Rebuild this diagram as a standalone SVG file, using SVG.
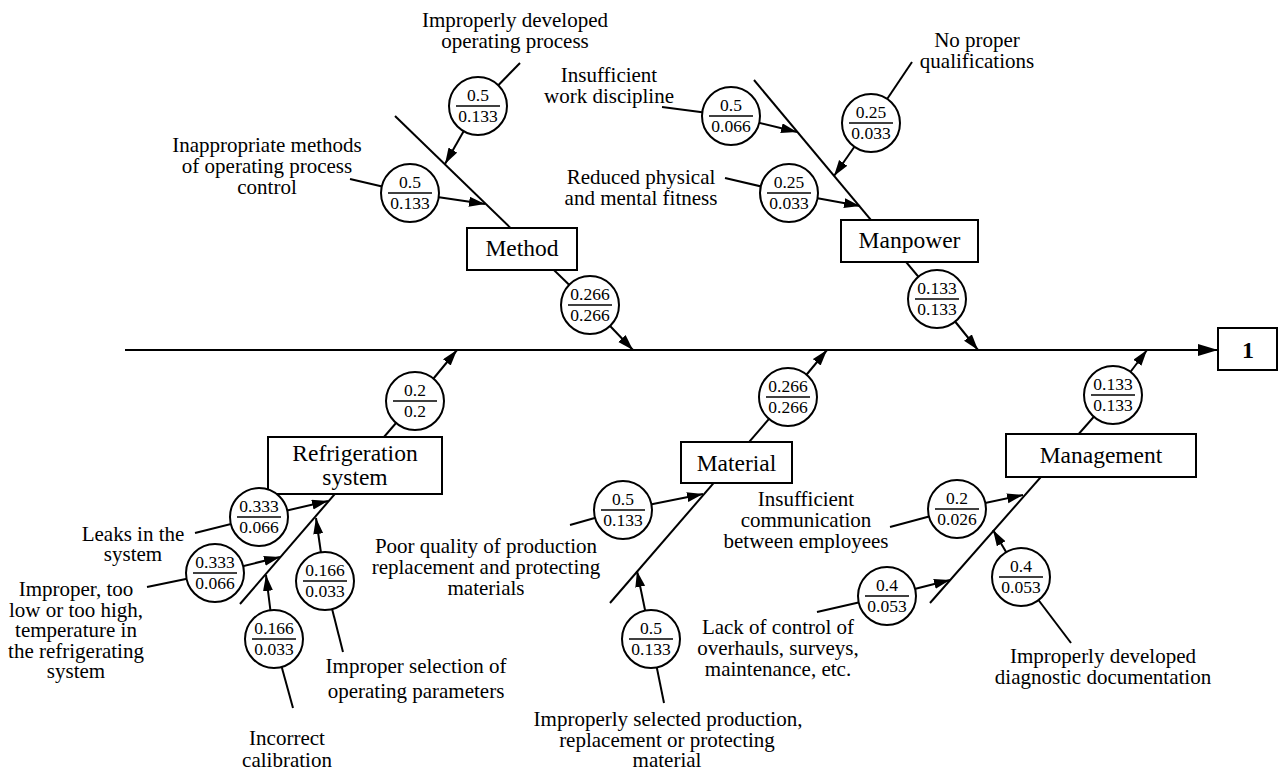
<svg xmlns="http://www.w3.org/2000/svg" width="1279" height="770" viewBox="0 0 1279 770">
<style>
.ln{stroke:#000;stroke-width:2;fill:none}
.ar{stroke:#000;stroke-width:2;fill:none;marker-end:url(#ah)}
.c{fill:#fff;stroke:#000;stroke-width:2}
.fl{stroke:#000;stroke-width:1.3}
.bx{fill:#fff;stroke:#000;stroke-width:2}
text{font-family:"Liberation Serif","Times New Roman",serif;text-anchor:middle;fill:#000}
.t{font-size:21px}
.n{font-size:17.5px}
.b{font-size:23.5px}
.one{font-size:24px;font-weight:bold}
</style>
<defs>
<marker id="ah" markerUnits="userSpaceOnUse" markerWidth="18" markerHeight="12" refX="16" refY="5" orient="auto"><path d="M0,0 L16,5 L0,10 z" fill="#000"/></marker>
<marker id="ahb" markerUnits="userSpaceOnUse" markerWidth="22" markerHeight="14" refX="20" refY="6" orient="auto"><path d="M0,0 L20,6 L0,12 z" fill="#000"/></marker>
</defs>
<rect width="1279" height="770" fill="#fff"/>
<g id="connectors">
<line x1="125" y1="350" x2="1218" y2="350" class="ln" marker-end="url(#ahb)"/>
<!-- Method -->
<line x1="395" y1="116" x2="590" y2="305" class="ln"/>
<line x1="590" y1="305" x2="633" y2="350" class="ar"/>
<line x1="520" y1="63" x2="478" y2="106" class="ln"/>
<line x1="478" y1="106" x2="445" y2="164" class="ar"/>
<line x1="350" y1="179" x2="410" y2="193" class="ln"/>
<line x1="410" y1="193" x2="485" y2="204" class="ar"/>
<!-- Manpower -->
<line x1="754" y1="80" x2="937" y2="299" class="ln"/>
<line x1="937" y1="299" x2="978" y2="350" class="ar"/>
<line x1="662" y1="107" x2="731" y2="116" class="ln"/>
<line x1="731" y1="116" x2="797" y2="132" class="ar"/>
<line x1="912" y1="62" x2="871" y2="123" class="ln"/>
<line x1="871" y1="123" x2="834" y2="176" class="ar"/>
<line x1="725" y1="178" x2="789" y2="193" class="ln"/>
<line x1="789" y1="193" x2="860" y2="206" class="ar"/>
<!-- Refrigeration -->
<line x1="240" y1="604" x2="415" y2="401" class="ln"/>
<line x1="415" y1="401" x2="457" y2="350" class="ar"/>
<line x1="195" y1="533" x2="259" y2="517" class="ln"/>
<line x1="259" y1="517" x2="328" y2="501" class="ar"/>
<line x1="147" y1="587" x2="215" y2="573" class="ln"/>
<line x1="215" y1="573" x2="280" y2="557" class="ar"/>
<line x1="293" y1="708" x2="274" y2="639" class="ln"/>
<line x1="274" y1="639" x2="266" y2="575" class="ar"/>
<line x1="343" y1="652" x2="325" y2="581" class="ln"/>
<line x1="325" y1="581" x2="316" y2="518" class="ar"/>
<!-- Material -->
<line x1="610" y1="603" x2="788" y2="397" class="ln"/>
<line x1="788" y1="397" x2="827" y2="350" class="ar"/>
<line x1="570" y1="525" x2="623" y2="510" class="ln"/>
<line x1="623" y1="510" x2="703" y2="494" class="ar"/>
<line x1="664" y1="703" x2="651" y2="639" class="ln"/>
<line x1="651" y1="639" x2="637" y2="571" class="ar"/>
<!-- Management -->
<line x1="930" y1="603" x2="1113" y2="395" class="ln"/>
<line x1="1113" y1="395" x2="1147" y2="350" class="ar"/>
<line x1="890" y1="527" x2="957" y2="509" class="ln"/>
<line x1="957" y1="509" x2="1023" y2="495" class="ar"/>
<line x1="817" y1="612" x2="887" y2="596" class="ln"/>
<line x1="887" y1="596" x2="950" y2="580" class="ar"/>
<line x1="1071" y1="643" x2="1021" y2="577" class="ln"/>
<line x1="1021" y1="577" x2="993" y2="530" class="ar"/>
</g>
<!-- category boxes -->
<g id="method"><rect x="467" y="228" width="110" height="42" class="bx"/><text x="522" y="256" class="b">Method</text></g>
<g id="manpower"><rect x="841" y="220" width="137" height="42" class="bx"/><text x="909.5" y="248" class="b">Manpower</text></g>
<g id="refrigeration"><rect x="268" y="437" width="174" height="57" class="bx"/><text x="355" y="461" class="b">Refrigeration</text><text x="355" y="485" class="b">system</text></g>
<g id="material"><rect x="681" y="442" width="111" height="41" class="bx"/><text x="736.5" y="471" class="b">Material</text></g>
<g id="management"><rect x="1006" y="434" width="190" height="43" class="bx"/><text x="1101" y="463" class="b">Management</text></g>
<g id="effect"><rect x="1218" y="328" width="59" height="42" class="bx"/><text x="1248" y="358" class="one">1</text></g>
<!-- weight circles -->
<g id="w-method" transform="translate(590,305)"><circle r="29" class="c"/><line x1="-22" x2="22" class="fl"/><text y="-5" class="n">0.266</text><text y="16" class="n">0.266</text></g>
<g id="w-m1" transform="translate(478,106)"><circle r="29" class="c"/><line x1="-22" x2="22" class="fl"/><text y="-5" class="n">0.5</text><text y="16" class="n">0.133</text></g>
<g id="w-m2" transform="translate(410,193)"><circle r="29" class="c"/><line x1="-22" x2="22" class="fl"/><text y="-5" class="n">0.5</text><text y="16" class="n">0.133</text></g>
<g id="w-manpower" transform="translate(937,299)"><circle r="29" class="c"/><line x1="-22" x2="22" class="fl"/><text y="-5" class="n">0.133</text><text y="16" class="n">0.133</text></g>
<g id="w-p1" transform="translate(731,116)"><circle r="29" class="c"/><line x1="-22" x2="22" class="fl"/><text y="-5" class="n">0.5</text><text y="16" class="n">0.066</text></g>
<g id="w-p2" transform="translate(871,123)"><circle r="29" class="c"/><line x1="-22" x2="22" class="fl"/><text y="-5" class="n">0.25</text><text y="16" class="n">0.033</text></g>
<g id="w-p3" transform="translate(789,193)"><circle r="29" class="c"/><line x1="-22" x2="22" class="fl"/><text y="-5" class="n">0.25</text><text y="16" class="n">0.033</text></g>
<g id="w-refrig" transform="translate(415,401)"><circle r="29" class="c"/><line x1="-22" x2="22" class="fl"/><text y="-5" class="n">0.2</text><text y="16" class="n">0.2</text></g>
<g id="w-r1" transform="translate(259,517)"><circle r="29" class="c"/><line x1="-22" x2="22" class="fl"/><text y="-5" class="n">0.333</text><text y="16" class="n">0.066</text></g>
<g id="w-r2" transform="translate(215,573)"><circle r="29" class="c"/><line x1="-22" x2="22" class="fl"/><text y="-5" class="n">0.333</text><text y="16" class="n">0.066</text></g>
<g id="w-r3" transform="translate(274,639)"><circle r="29" class="c"/><line x1="-22" x2="22" class="fl"/><text y="-5" class="n">0.166</text><text y="16" class="n">0.033</text></g>
<g id="w-r4" transform="translate(325,581)"><circle r="29" class="c"/><line x1="-22" x2="22" class="fl"/><text y="-5" class="n">0.166</text><text y="16" class="n">0.033</text></g>
<g id="w-material" transform="translate(788,397)"><circle r="29" class="c"/><line x1="-22" x2="22" class="fl"/><text y="-5" class="n">0.266</text><text y="16" class="n">0.266</text></g>
<g id="w-t1" transform="translate(623,510)"><circle r="29" class="c"/><line x1="-22" x2="22" class="fl"/><text y="-5" class="n">0.5</text><text y="16" class="n">0.133</text></g>
<g id="w-t2" transform="translate(651,639)"><circle r="29" class="c"/><line x1="-22" x2="22" class="fl"/><text y="-5" class="n">0.5</text><text y="16" class="n">0.133</text></g>
<g id="w-management" transform="translate(1113,395)"><circle r="29" class="c"/><line x1="-22" x2="22" class="fl"/><text y="-5" class="n">0.133</text><text y="16" class="n">0.133</text></g>
<g id="w-g1" transform="translate(957,509)"><circle r="29" class="c"/><line x1="-22" x2="22" class="fl"/><text y="-5" class="n">0.2</text><text y="16" class="n">0.026</text></g>
<g id="w-g2" transform="translate(887,596)"><circle r="29" class="c"/><line x1="-22" x2="22" class="fl"/><text y="-5" class="n">0.4</text><text y="16" class="n">0.053</text></g>
<g id="w-g3" transform="translate(1021,577)"><circle r="29" class="c"/><line x1="-22" x2="22" class="fl"/><text y="-5" class="n">0.4</text><text y="16" class="n">0.053</text></g>
<!-- cause labels -->
<g id="l-m1" class="t"><text x="515" y="27">Improperly developed</text><text x="515" y="48">operating process</text></g>
<g id="l-m2" class="t"><text x="267" y="152">Inappropriate methods</text><text x="267" y="173">of operating process</text><text x="267" y="194">control</text></g>
<g id="l-p1" class="t"><text x="609" y="82">Insufficient</text><text x="609" y="103">work discipline</text></g>
<g id="l-p2" class="t"><text x="977" y="47">No proper</text><text x="977" y="68">qualifications</text></g>
<g id="l-p3" class="t"><text x="641" y="184">Reduced physical</text><text x="641" y="205">and mental fitness</text></g>
<g id="l-r1" class="t"><text x="133" y="541">Leaks in the</text><text x="133" y="561">system</text></g>
<g id="l-r2" class="t"><text x="76" y="596">Improper, too</text><text x="76" y="617">low or too high,</text><text x="76" y="637">temperature in</text><text x="76" y="658">the refrigerating</text><text x="76" y="678">system</text></g>
<g id="l-r3" class="t"><text x="287" y="745">Incorrect</text><text x="287" y="767">calibration</text></g>
<g id="l-r4" class="t"><text x="416" y="673">Improper selection of</text><text x="416" y="698">operating parameters</text></g>
<g id="l-t1" class="t"><text x="486" y="553">Poor quality of production</text><text x="486" y="574">replacement and protecting</text><text x="486" y="595">materials</text></g>
<g id="l-t2" class="t"><text x="668" y="726">Improperly selected production,</text><text x="667" y="747">replacement or protecting</text><text x="667" y="767">material</text></g>
<g id="l-g1" class="t"><text x="806" y="506">Insufficient</text><text x="806" y="527">communication</text><text x="806" y="548">between employees</text></g>
<g id="l-g2" class="t"><text x="778" y="634">Lack of control of</text><text x="778" y="655">overhauls, surveys,</text><text x="778" y="676">maintenance, etc.</text></g>
<g id="l-g3" class="t"><text x="1103" y="663">Improperly developed</text><text x="1103" y="684">diagnostic documentation</text></g>
</svg>
